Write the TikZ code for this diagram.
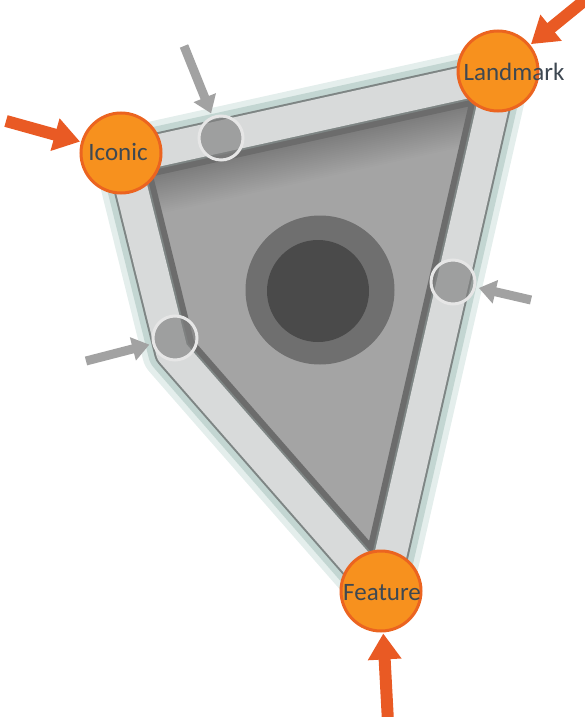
\documentclass[tikz,border=0pt]{standalone}
\usepackage{fontspec}
\setmainfont{Carlito}
\usetikzlibrary{arrows.meta,calc}
\definecolor{bandlight}{HTML}{D8DADA}
\definecolor{banddark}{HTML}{6C6C6C}
\definecolor{bandedge}{HTML}{7E8584}
\definecolor{inner}{HTML}{A4A4A4}
\definecolor{tealc}{HTML}{C3D6D2}
\definecolor{tealfade}{HTML}{E4EEEC}
\definecolor{ringgray}{HTML}{4A4A4A}
\definecolor{outergray}{HTML}{6F6F6F}
\definecolor{smallfill}{HTML}{808080}
\definecolor{ringlight}{HTML}{E6E6E6}
\definecolor{orangefill}{HTML}{F7911E}
\definecolor{orangeline}{HTML}{EB6420}
\definecolor{orangearrow}{HTML}{E95A24}
\definecolor{grayarrow}{HTML}{A2A2A2}
\definecolor{labeltext}{HTML}{3E4852}
\tikzset{
  orangecirc/.style={circle, fill=orangefill, draw=orangeline, line width=3pt, minimum size=80pt, inner sep=0pt},
  smallcirc/.style={circle, fill=smallfill, fill opacity=0.65, draw=ringlight, draw opacity=1, line width=3pt, minimum size=44pt, inner sep=0pt},
  lbl/.style={font=\fontsize{25}{27}\selectfont, text=labeltext, inner sep=0pt},
  orangearr/.style={draw=orangearrow, line width=12pt, -{Triangle[width=32pt,length=26pt]}, shorten >=1pt},
  grayarr/.style={draw=grayarrow, line width=9pt, -{Triangle[width=23pt,length=17pt]}, shorten >=3pt},
}
\begin{document}
\begin{tikzpicture}[x=1pt,y=-1pt]
\useasboundingbox (0,0) rectangle (584,717);
\coordinate (A) at (124,158);
\coordinate (B) at (172,352);
\coordinate (C) at (382,592);
\coordinate (D) at (500,75);
% halo
\draw[tealfade, line width=60pt, line join=round] (A) -- (B) -- (C) -- (D) -- cycle;
\draw[tealc, line width=48pt, line join=round] (A) -- (B) -- (C) -- (D) -- cycle;
% interior
\fill[inner] (A) -- (B) -- (C) -- (D) -- cycle;
\begin{scope}
  \clip (A) -- (B) -- (C) -- (D) -- cycle;
  \foreach \w in {48,52,...,124}{
    \draw[black, opacity=0.012, line width=\w pt] ($(A)!-0.2!(D)$) -- ($(D)!-0.2!(A)$);
  }
  \draw[banddark, line width=48pt, line join=round] (A) -- (B) -- (C) -- (D) -- cycle;
\end{scope}
% band
\draw[bandedge, line width=36pt, line join=round] (A) -- (B) -- (C) -- (D) -- cycle;
\draw[bandlight, line width=32pt, line join=round] (A) -- (B) -- (C) -- (D) -- cycle;
% central target
\node[circle, fill=outergray, minimum size=149pt, inner sep=0pt] (target) at (320,290) {};
\node[circle, fill=ringgray, minimum size=102pt, inner sep=0pt] (bull) at (318,291) {};
% small circles
\node[smallcirc] (top) at (221,138) {};
\node[smallcirc] (right) at (453,282) {};
\node[smallcirc] (left) at (175,338) {};
% orange circles
\node[orangecirc] (iconic) at (121,153) {};
\node[orangecirc] (landmark) at (498,71) {};
\node[orangecirc] (feature) at (381,591) {};
\node[lbl] (iconictxt) at (118,152) {Iconic};
\node[lbl] (landmarktxt) at (514,72) {Landmark};
\node[lbl] (featuretxt) at (382,593) {Feature};
% arrows
\coordinate (ti) at (6,121);
\coordinate (tl) at (590,-4);
\coordinate (tf) at (388,722);
\draw[orangearr] (ti) -- (iconic);
\draw[orangearr] (tl) -- (landmark);
\draw[orangearr] (tf) -- (feature);
\coordinate (gt) at (184,46);
\coordinate (gl) at (86,361);
\coordinate (gr) at (531,300);
\draw[grayarr] (gt) -- (top);
\draw[grayarr] (gl) -- (left);
\draw[grayarr] (gr) -- (right);
\end{tikzpicture}
\end{document}
